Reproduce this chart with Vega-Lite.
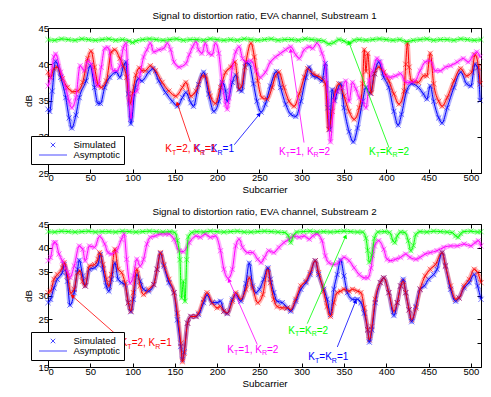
{
"$schema":"https://vega.github.io/schema/vega-lite/v6.json",
"padding":{"left":23,"top":10,"right":5,"bottom":5},
"config":{"font":"Liberation Sans","view":{"stroke":"#000","strokeWidth":1},
"axis":{"grid":false,"domain":false,"tickColor":"#000","tickSize":-4,"labelColor":"#000","labelFontSize":9.5,"labelFont":"Liberation Sans","titleFont":"Liberation Sans","titleFontSize":9.8,"titleFontWeight":"normal","titleColor":"#000","labelPadding":3.5},
"axisX":{"titlePadding":2.5},"axisY":{"titlePadding":4},
"title":{"fontSize":9.8,"fontWeight":"normal","font":"Liberation Sans","color":"#000","offset":2},
"concat":{"spacing":11}},
"datasets":{
"lg":[{"k":"Simulated","x":256,"y":-100},{"k":"Asymptotic","x":256,"y":-100}],
"a1":[
{"c":"r","g":"A","m":"=2, K","e":"=1","x":138.7,"y":28.3,"ax":168.3,"ay":29.3,"hx":152.9,"hy":34.6},
{"c":"b","g":"B","m":"=K","e":"=1","x":172.6,"y":28.3,"ax":220.3,"ay":28.9,"hx":249.9,"hy":33.1},
{"c":"m","g":"A","m":"=1, K","e":"=2","x":273.1,"y":27.9,"ax":302.7,"ay":29.2,"hx":286.9,"hy":41.9},
{"c":"g","g":"B","m":"=K","e":"=2","x":379.6,"y":27.9,"ax":403.2,"ay":28.5,"hx":355.9,"hy":43.0}],
"a2":[
{"c":"r","g":"A","m":"=2, K","e":"=1","x":85.9,"y":20.0,"ax":85.1,"ay":21.1,"hx":28.7,"hy":29.9},
{"c":"m","g":"A","m":"=1, K","e":"=2","x":212,"y":18.6,"ax":247.5,"ay":19.7,"hx":214,"hy":33.2},
{"c":"g","g":"B","m":"=K","e":"=2","x":284,"y":22.6,"ax":306.6,"ay":24.1,"hx":351.9,"hy":42.4},
{"c":"b","g":"B","m":"=K","e":"=1","x":307.8,"y":17.0,"ax":342.1,"ay":19.2,"hx":363.7,"hy":28.8}],
"s1":[
{"s":"b","x":0,"y":33.8},{"s":"b","x":2,"y":33.5},{"s":"b","x":5,"y":36.3},{"s":"b","x":9,"y":40.4},{"s":"b","x":15,"y":38.2},{"s":"b","x":21,"y":35.4},{"s":"b","x":25,"y":32.6},{"s":"b","x":28,"y":31.2},{"s":"b","x":33,"y":33.0},{"s":"b","x":37,"y":35.4},{"s":"b","x":45,"y":37.7},{"s":"b","x":50,"y":39.8},{"s":"b","x":55,"y":36.8},{"s":"b","x":59,"y":34.6},{"s":"b","x":62,"y":34.6},{"s":"b","x":67,"y":36.8},{"s":"b","x":73,"y":38.2},{"s":"b","x":81,"y":38.9},{"s":"b","x":85,"y":38.2},{"s":"b","x":89,"y":39.6},{"s":"b","x":92,"y":40.3},{"s":"b","x":95,"y":35.9},{"s":"b","x":98,"y":31.8},{"s":"b","x":103,"y":36.8},{"s":"b","x":107,"y":38.0},{"s":"b","x":111,"y":37.7},{"s":"b","x":119,"y":38.9},{"s":"b","x":124,"y":39.4},{"s":"b","x":131,"y":37.7},{"s":"b","x":139,"y":36.1},{"s":"b","x":147,"y":34.9},{"s":"b","x":153,"y":34.2},{"s":"b","x":159,"y":35.4},{"s":"b","x":163,"y":36.1},{"s":"b","x":169,"y":34.7},{"s":"b","x":172,"y":34.2},{"s":"b","x":178,"y":37.2},{"s":"b","x":184,"y":38.9},{"s":"b","x":190,"y":35.9},{"s":"b","x":196,"y":33.5},{"s":"b","x":202,"y":34.9},{"s":"b","x":206,"y":37.5},{"s":"b","x":210,"y":36.3},{"s":"b","x":212,"y":34.9},{"s":"b","x":218,"y":37.5},{"s":"b","x":222,"y":38.5},{"s":"b","x":226,"y":36.5},{"s":"b","x":229,"y":36.3},{"s":"b","x":234,"y":40.2},{"s":"b","x":238,"y":40.0},{"s":"b","x":243,"y":37.3},{"s":"b","x":247,"y":34.9},{"s":"b","x":252,"y":33.4},{"s":"b","x":257,"y":34.5},{"s":"b","x":263,"y":37.0},{"s":"b","x":270,"y":39.0},{"s":"b","x":275,"y":36.8},{"s":"b","x":281,"y":34.5},{"s":"b","x":287,"y":33.1},{"s":"b","x":293,"y":32.8},{"s":"b","x":299,"y":34.9},{"s":"b","x":305,"y":38.2},{"s":"b","x":309,"y":39.6},{"s":"b","x":313,"y":38.4},{"s":"b","x":318,"y":38.2},{"s":"b","x":324,"y":37.7},{"s":"b","x":328,"y":40.1},{"s":"b","x":331,"y":34.0},{"s":"b","x":333,"y":31.0},{"s":"b","x":336,"y":36.5},{"s":"b","x":339,"y":35.0},{"s":"b","x":342,"y":36.3},{"s":"b","x":346,"y":37.3},{"s":"b","x":350,"y":34.0},{"s":"b","x":356,"y":30.7},{"s":"b","x":361,"y":29.3},{"s":"b","x":366,"y":31.2},{"s":"b","x":372,"y":34.9},{"s":"b","x":376,"y":36.8},{"s":"b","x":381,"y":36.0},{"s":"b","x":386,"y":38.7},{"s":"b","x":391,"y":40.3},{"s":"b","x":397,"y":38.2},{"s":"b","x":403,"y":36.8},{"s":"b","x":409,"y":33.5},{"s":"b","x":414,"y":31.6},{"s":"b","x":418,"y":33.1},{"s":"b","x":424,"y":36.3},{"s":"b","x":430,"y":37.3},{"s":"b","x":438,"y":36.8},{"s":"b","x":444,"y":35.9},{"s":"b","x":448,"y":35.2},{"s":"b","x":452,"y":37.0},{"s":"b","x":456,"y":34.9},{"s":"b","x":462,"y":32.6},{"s":"b","x":466,"y":31.9},{"s":"b","x":472,"y":34.0},{"s":"b","x":480,"y":36.8},{"s":"b","x":488,"y":38.9},{"s":"b","x":495,"y":37.3},{"s":"b","x":500,"y":37.0},{"s":"b","x":505,"y":40.0},{"s":"b","x":508,"y":39.5},{"s":"b","x":511,"y":35.0},
{"s":"r","x":0,"y":38.9},{"s":"r","x":3,"y":38.2},{"s":"r","x":7,"y":39.4},{"s":"r","x":11,"y":39.6},{"s":"r","x":17,"y":38.0},{"s":"r","x":23,"y":36.8},{"s":"r","x":29,"y":36.2},{"s":"r","x":35,"y":36.3},{"s":"r","x":41,"y":37.5},{"s":"r","x":47,"y":40.8},{"s":"r","x":51,"y":41.8},{"s":"r","x":55,"y":39.6},{"s":"r","x":59,"y":37.3},{"s":"r","x":63,"y":36.8},{"s":"r","x":69,"y":37.7},{"s":"r","x":75,"y":41.7},{"s":"r","x":79,"y":42.0},{"s":"r","x":85,"y":40.8},{"s":"r","x":89,"y":39.8},{"s":"r","x":93,"y":38.2},{"s":"r","x":97,"y":34.6},{"s":"r","x":100,"y":36.0},{"s":"r","x":104,"y":38.5},{"s":"r","x":108,"y":39.5},{"s":"r","x":111,"y":39.1},{"s":"r","x":115,"y":39.1},{"s":"r","x":121,"y":39.8},{"s":"r","x":127,"y":39.1},{"s":"r","x":135,"y":37.5},{"s":"r","x":143,"y":36.3},{"s":"r","x":151,"y":35.6},{"s":"r","x":159,"y":36.8},{"s":"r","x":163,"y":37.5},{"s":"r","x":169,"y":35.6},{"s":"r","x":175,"y":36.3},{"s":"r","x":183,"y":38.4},{"s":"r","x":186,"y":38.4},{"s":"r","x":192,"y":35.6},{"s":"r","x":198,"y":34.6},{"s":"r","x":204,"y":36.8},{"s":"r","x":210,"y":38.9},{"s":"r","x":216,"y":39.6},{"s":"r","x":221,"y":40.3},{"s":"r","x":226,"y":36.6},{"s":"r","x":229,"y":37.0},{"s":"r","x":233,"y":39.6},{"s":"r","x":240,"y":42.9},{"s":"r","x":244,"y":41.0},{"s":"r","x":248,"y":37.7},{"s":"r","x":253,"y":35.4},{"s":"r","x":259,"y":35.2},{"s":"r","x":265,"y":36.8},{"s":"r","x":269,"y":38.4},{"s":"r","x":273,"y":38.9},{"s":"r","x":279,"y":36.8},{"s":"r","x":285,"y":34.9},{"s":"r","x":291,"y":34.2},{"s":"r","x":297,"y":35.9},{"s":"r","x":303,"y":38.2},{"s":"r","x":307,"y":39.4},{"s":"r","x":313,"y":38.7},{"s":"r","x":318,"y":38.4},{"s":"r","x":324,"y":38.0},{"s":"r","x":328,"y":37.3},{"s":"r","x":332,"y":31.0},{"s":"r","x":336,"y":33.5},{"s":"r","x":340,"y":36.3},{"s":"r","x":344,"y":37.3},{"s":"r","x":350,"y":35.6},{"s":"r","x":356,"y":33.5},{"s":"r","x":362,"y":32.4},{"s":"r","x":368,"y":34.0},{"s":"r","x":372,"y":37.3},{"s":"r","x":374,"y":42.0},{"s":"r","x":376,"y":39.0},{"s":"r","x":378,"y":41.5},{"s":"r","x":382,"y":36.0},{"s":"r","x":386,"y":38.7},{"s":"r","x":391,"y":39.6},{"s":"r","x":397,"y":38.9},{"s":"r","x":403,"y":37.7},{"s":"r","x":409,"y":35.9},{"s":"r","x":415,"y":34.5},{"s":"r","x":421,"y":36.3},{"s":"r","x":423,"y":40.0},{"s":"r","x":425,"y":42.9},{"s":"r","x":427,"y":39.6},{"s":"r","x":430,"y":37.7},{"s":"r","x":438,"y":37.5},{"s":"r","x":444,"y":38.4},{"s":"r","x":448,"y":38.4},{"s":"r","x":452,"y":41.5},{"s":"r","x":456,"y":37.3},{"s":"r","x":462,"y":34.9},{"s":"r","x":466,"y":34.2},{"s":"r","x":472,"y":35.4},{"s":"r","x":480,"y":37.7},{"s":"r","x":488,"y":39.4},{"s":"r","x":495,"y":38.4},{"s":"r","x":501,"y":38.9},{"s":"r","x":505,"y":41.3},{"s":"r","x":509,"y":39.6},{"s":"r","x":511,"y":37.3},
{"s":"m","x":0,"y":37.0},{"s":"m","x":3,"y":38.2},{"s":"m","x":7,"y":41.0},{"s":"m","x":9,"y":41.4},{"s":"m","x":15,"y":38.9},{"s":"m","x":21,"y":36.8},{"s":"m","x":25,"y":34.9},{"s":"m","x":28,"y":34.0},{"s":"m","x":33,"y":35.4},{"s":"m","x":38,"y":39.8},{"s":"m","x":43,"y":39.1},{"s":"m","x":47,"y":40.5},{"s":"m","x":51,"y":40.0},{"s":"m","x":55,"y":38.0},{"s":"m","x":59,"y":37.0},{"s":"m","x":63,"y":39.6},{"s":"m","x":67,"y":42.2},{"s":"m","x":71,"y":42.3},{"s":"m","x":77,"y":39.1},{"s":"m","x":81,"y":39.1},{"s":"m","x":85,"y":39.8},{"s":"m","x":89,"y":42.2},{"s":"m","x":92,"y":42.9},{"s":"m","x":96,"y":34.9},{"s":"m","x":98,"y":32.5},{"s":"m","x":101,"y":35.9},{"s":"m","x":105,"y":36.3},{"s":"m","x":109,"y":38.7},{"s":"m","x":113,"y":41.0},{"s":"m","x":117,"y":42.0},{"s":"m","x":121,"y":42.9},{"s":"m","x":125,"y":41.7},{"s":"m","x":131,"y":42.0},{"s":"m","x":137,"y":42.2},{"s":"m","x":141,"y":42.9},{"s":"m","x":145,"y":42.0},{"s":"m","x":149,"y":40.3},{"s":"m","x":155,"y":39.6},{"s":"m","x":163,"y":40.1},{"s":"m","x":167,"y":41.3},{"s":"m","x":171,"y":42.4},{"s":"m","x":175,"y":43.1},{"s":"m","x":178,"y":42.0},{"s":"m","x":182,"y":41.5},{"s":"m","x":186,"y":42.9},{"s":"m","x":190,"y":41.5},{"s":"m","x":194,"y":41.3},{"s":"m","x":198,"y":42.9},{"s":"m","x":202,"y":41.5},{"s":"m","x":206,"y":37.3},{"s":"m","x":210,"y":34.5},{"s":"m","x":212,"y":33.8},{"s":"m","x":214,"y":35.4},{"s":"m","x":218,"y":39.6},{"s":"m","x":222,"y":41.7},{"s":"m","x":226,"y":42.4},{"s":"m","x":230,"y":40.8},{"s":"m","x":234,"y":40.3},{"s":"m","x":240,"y":40.5},{"s":"m","x":246,"y":39.1},{"s":"m","x":251,"y":38.2},{"s":"m","x":257,"y":38.9},{"s":"m","x":263,"y":40.3},{"s":"m","x":269,"y":41.0},{"s":"m","x":275,"y":41.5},{"s":"m","x":281,"y":42.0},{"s":"m","x":287,"y":42.4},{"s":"m","x":293,"y":41.3},{"s":"m","x":297,"y":40.8},{"s":"m","x":303,"y":42.0},{"s":"m","x":309,"y":42.4},{"s":"m","x":313,"y":42.2},{"s":"m","x":318,"y":42.9},{"s":"m","x":324,"y":41.5},{"s":"m","x":328,"y":39.6},{"s":"m","x":331,"y":34.9},{"s":"m","x":334,"y":29.3},{"s":"m","x":338,"y":34.9},{"s":"m","x":342,"y":36.3},{"s":"m","x":348,"y":36.8},{"s":"m","x":352,"y":37.7},{"s":"m","x":356,"y":34.9},{"s":"m","x":360,"y":37.5},{"s":"m","x":364,"y":36.6},{"s":"m","x":368,"y":35.4},{"s":"m","x":372,"y":34.9},{"s":"m","x":376,"y":34.0},{"s":"m","x":380,"y":37.7},{"s":"m","x":384,"y":39.1},{"s":"m","x":389,"y":40.8},{"s":"m","x":393,"y":40.3},{"s":"m","x":399,"y":38.4},{"s":"m","x":405,"y":38.2},{"s":"m","x":411,"y":38.4},{"s":"m","x":417,"y":38.7},{"s":"m","x":423,"y":37.5},{"s":"m","x":428,"y":37.5},{"s":"m","x":434,"y":37.7},{"s":"m","x":440,"y":39.1},{"s":"m","x":446,"y":40.3},{"s":"m","x":452,"y":40.5},{"s":"m","x":458,"y":39.1},{"s":"m","x":464,"y":39.1},{"s":"m","x":470,"y":39.6},{"s":"m","x":476,"y":39.8},{"s":"m","x":484,"y":40.3},{"s":"m","x":491,"y":40.8},{"s":"m","x":497,"y":40.3},{"s":"m","x":503,"y":41.3},{"s":"m","x":507,"y":41.7},{"s":"m","x":511,"y":41.0},
{"s":"g","x":0,"y":43.4},{"s":"g","x":8,"y":43.3},{"s":"g","x":16,"y":43.5},{"s":"g","x":24,"y":43.4},{"s":"g","x":32,"y":43.3},{"s":"g","x":40,"y":43.5},{"s":"g","x":48,"y":43.4},{"s":"g","x":56,"y":43.3},{"s":"g","x":64,"y":43.4},{"s":"g","x":72,"y":43.5},{"s":"g","x":80,"y":43.3},{"s":"g","x":88,"y":43.4},{"s":"g","x":96,"y":43.2},{"s":"g","x":100,"y":43.0},{"s":"g","x":104,"y":43.2},{"s":"g","x":112,"y":43.4},{"s":"g","x":120,"y":43.5},{"s":"g","x":128,"y":43.4},{"s":"g","x":136,"y":43.3},{"s":"g","x":144,"y":43.4},{"s":"g","x":152,"y":43.5},{"s":"g","x":160,"y":43.3},{"s":"g","x":168,"y":43.4},{"s":"g","x":176,"y":43.4},{"s":"g","x":184,"y":43.3},{"s":"g","x":192,"y":43.5},{"s":"g","x":200,"y":43.4},{"s":"g","x":208,"y":43.3},{"s":"g","x":216,"y":43.4},{"s":"g","x":224,"y":43.3},{"s":"g","x":232,"y":43.5},{"s":"g","x":240,"y":43.4},{"s":"g","x":248,"y":43.3},{"s":"g","x":256,"y":43.4},{"s":"g","x":264,"y":43.5},{"s":"g","x":272,"y":43.3},{"s":"g","x":280,"y":43.4},{"s":"g","x":288,"y":43.4},{"s":"g","x":296,"y":43.3},{"s":"g","x":304,"y":43.5},{"s":"g","x":312,"y":43.4},{"s":"g","x":320,"y":43.3},{"s":"g","x":326,"y":43.2},{"s":"g","x":332,"y":42.8},{"s":"g","x":338,"y":43.0},{"s":"g","x":344,"y":43.4},{"s":"g","x":350,"y":43.2},{"s":"g","x":356,"y":42.9},{"s":"g","x":362,"y":43.3},{"s":"g","x":368,"y":43.4},{"s":"g","x":376,"y":43.3},{"s":"g","x":384,"y":43.4},{"s":"g","x":392,"y":43.5},{"s":"g","x":400,"y":43.4},{"s":"g","x":408,"y":43.3},{"s":"g","x":416,"y":43.4},{"s":"g","x":424,"y":43.1},{"s":"g","x":432,"y":43.3},{"s":"g","x":440,"y":43.4},{"s":"g","x":448,"y":43.5},{"s":"g","x":456,"y":43.3},{"s":"g","x":464,"y":43.4},{"s":"g","x":472,"y":43.4},{"s":"g","x":480,"y":43.3},{"s":"g","x":488,"y":43.5},{"s":"g","x":496,"y":43.4},{"s":"g","x":504,"y":43.3},{"s":"g","x":512,"y":43.4}],
"s2":[
{"s":"b","x":0,"y":28.5},{"s":"b","x":3,"y":29.2},{"s":"b","x":7,"y":31.6},{"s":"b","x":11,"y":33.4},{"s":"b","x":17,"y":34.8},{"s":"b","x":19,"y":36.5},{"s":"b","x":23,"y":33.0},{"s":"b","x":26,"y":28.0},{"s":"b","x":31,"y":30.6},{"s":"b","x":35,"y":35.5},{"s":"b","x":37,"y":37.4},{"s":"b","x":41,"y":34.1},{"s":"b","x":44,"y":32.0},{"s":"b","x":49,"y":35.5},{"s":"b","x":55,"y":35.8},{"s":"b","x":59,"y":36.5},{"s":"b","x":62,"y":38.6},{"s":"b","x":65,"y":35.5},{"s":"b","x":69,"y":32.0},{"s":"b","x":72,"y":30.9},{"s":"b","x":75,"y":33.4},{"s":"b","x":79,"y":36.8},{"s":"b","x":83,"y":33.4},{"s":"b","x":87,"y":32.7},{"s":"b","x":91,"y":32.3},{"s":"b","x":95,"y":28.5},{"s":"b","x":98,"y":26.6},{"s":"b","x":101,"y":29.2},{"s":"b","x":105,"y":34.4},{"s":"b","x":109,"y":33.0},{"s":"b","x":113,"y":31.3},{"s":"b","x":119,"y":30.9},{"s":"b","x":125,"y":32.3},{"s":"b","x":129,"y":35.5},{"s":"b","x":133,"y":38.8},{"s":"b","x":137,"y":36.2},{"s":"b","x":143,"y":32.7},{"s":"b","x":149,"y":30.6},{"s":"b","x":153,"y":24.9},{"s":"b","x":157,"y":19.3},{"s":"b","x":159,"y":16.5},{"s":"b","x":161,"y":18.2},{"s":"b","x":165,"y":24.2},{"s":"b","x":169,"y":25.6},{"s":"b","x":175,"y":25.6},{"s":"b","x":178,"y":26.0},{"s":"b","x":184,"y":28.5},{"s":"b","x":188,"y":30.1},{"s":"b","x":194,"y":28.5},{"s":"b","x":200,"y":28.5},{"s":"b","x":204,"y":28.8},{"s":"b","x":208,"y":26.7},{"s":"b","x":212,"y":26.2},{"s":"b","x":218,"y":29.2},{"s":"b","x":222,"y":30.2},{"s":"b","x":228,"y":28.8},{"s":"b","x":234,"y":32.5},{"s":"b","x":238,"y":36.8},{"s":"b","x":242,"y":32.0},{"s":"b","x":246,"y":30.6},{"s":"b","x":250,"y":31.3},{"s":"b","x":255,"y":33.4},{"s":"b","x":260,"y":35.8},{"s":"b","x":263,"y":33.4},{"s":"b","x":267,"y":30.6},{"s":"b","x":271,"y":28.8},{"s":"b","x":277,"y":28.5},{"s":"b","x":283,"y":27.4},{"s":"b","x":287,"y":26.7},{"s":"b","x":293,"y":28.8},{"s":"b","x":299,"y":31.3},{"s":"b","x":305,"y":32.7},{"s":"b","x":310,"y":34.4},{"s":"b","x":316,"y":37.3},{"s":"b","x":320,"y":34.4},{"s":"b","x":326,"y":31.3},{"s":"b","x":330,"y":29.2},{"s":"b","x":334,"y":26.0},{"s":"b","x":338,"y":31.3},{"s":"b","x":342,"y":34.4},{"s":"b","x":346,"y":37.4},{"s":"b","x":350,"y":34.1},{"s":"b","x":354,"y":30.6},{"s":"b","x":360,"y":29.2},{"s":"b","x":366,"y":29.2},{"s":"b","x":370,"y":28.5},{"s":"b","x":374,"y":26.3},{"s":"b","x":378,"y":22.8},{"s":"b","x":380,"y":20.2},{"s":"b","x":383,"y":22.8},{"s":"b","x":387,"y":28.5},{"s":"b","x":393,"y":32.7},{"s":"b","x":397,"y":33.7},{"s":"b","x":403,"y":30.6},{"s":"b","x":409,"y":25.8},{"s":"b","x":413,"y":28.5},{"s":"b","x":417,"y":32.0},{"s":"b","x":420,"y":33.4},{"s":"b","x":423,"y":30.6},{"s":"b","x":427,"y":27.0},{"s":"b","x":430,"y":24.5},{"s":"b","x":435,"y":27.7},{"s":"b","x":440,"y":31.3},{"s":"b","x":445,"y":32.0},{"s":"b","x":450,"y":33.4},{"s":"b","x":456,"y":34.4},{"s":"b","x":460,"y":35.5},{"s":"b","x":466,"y":39.0},{"s":"b","x":470,"y":36.2},{"s":"b","x":476,"y":31.3},{"s":"b","x":482,"y":28.8},{"s":"b","x":486,"y":29.5},{"s":"b","x":492,"y":31.6},{"s":"b","x":498,"y":32.7},{"s":"b","x":504,"y":34.4},{"s":"b","x":508,"y":32.0},{"s":"b","x":512,"y":29.2},
{"s":"r","x":0,"y":30.6},{"s":"r","x":3,"y":30.9},{"s":"r","x":7,"y":33.4},{"s":"r","x":11,"y":34.4},{"s":"r","x":17,"y":35.8},{"s":"r","x":19,"y":36.9},{"s":"r","x":23,"y":34.1},{"s":"r","x":27,"y":30.5},{"s":"r","x":31,"y":31.3},{"s":"r","x":35,"y":34.8},{"s":"r","x":38,"y":35.1},{"s":"r","x":41,"y":33.0},{"s":"r","x":44,"y":32.0},{"s":"r","x":49,"y":36.2},{"s":"r","x":55,"y":36.5},{"s":"r","x":59,"y":37.6},{"s":"r","x":61,"y":39.0},{"s":"r","x":65,"y":36.5},{"s":"r","x":69,"y":33.4},{"s":"r","x":72,"y":32.0},{"s":"r","x":75,"y":34.4},{"s":"r","x":79,"y":39.7},{"s":"r","x":83,"y":35.5},{"s":"r","x":87,"y":34.8},{"s":"r","x":91,"y":32.7},{"s":"r","x":95,"y":28.5},{"s":"r","x":98,"y":26.7},{"s":"r","x":101,"y":30.6},{"s":"r","x":105,"y":35.5},{"s":"r","x":109,"y":32.0},{"s":"r","x":113,"y":30.2},{"s":"r","x":119,"y":31.3},{"s":"r","x":125,"y":32.3},{"s":"r","x":129,"y":35.5},{"s":"r","x":133,"y":39.0},{"s":"r","x":137,"y":36.5},{"s":"r","x":143,"y":33.4},{"s":"r","x":149,"y":30.6},{"s":"r","x":153,"y":26.3},{"s":"r","x":157,"y":20.0},{"s":"r","x":159,"y":16.1},{"s":"r","x":161,"y":17.9},{"s":"r","x":165,"y":24.2},{"s":"r","x":169,"y":25.6},{"s":"r","x":175,"y":25.6},{"s":"r","x":178,"y":26.3},{"s":"r","x":184,"y":29.2},{"s":"r","x":188,"y":30.6},{"s":"r","x":194,"y":28.5},{"s":"r","x":200,"y":27.4},{"s":"r","x":204,"y":27.7},{"s":"r","x":208,"y":26.7},{"s":"r","x":212,"y":26.3},{"s":"r","x":218,"y":28.8},{"s":"r","x":222,"y":30.6},{"s":"r","x":228,"y":29.2},{"s":"r","x":234,"y":31.3},{"s":"r","x":238,"y":33.7},{"s":"r","x":242,"y":31.6},{"s":"r","x":248,"y":28.5},{"s":"r","x":254,"y":30.2},{"s":"r","x":260,"y":35.5},{"s":"r","x":263,"y":32.7},{"s":"r","x":267,"y":29.2},{"s":"r","x":271,"y":27.7},{"s":"r","x":277,"y":27.4},{"s":"r","x":283,"y":27.4},{"s":"r","x":287,"y":27.0},{"s":"r","x":293,"y":29.2},{"s":"r","x":299,"y":32.0},{"s":"r","x":305,"y":33.0},{"s":"r","x":310,"y":34.8},{"s":"r","x":316,"y":37.3},{"s":"r","x":320,"y":34.8},{"s":"r","x":326,"y":30.9},{"s":"r","x":330,"y":27.7},{"s":"r","x":334,"y":25.6},{"s":"r","x":338,"y":28.5},{"s":"r","x":342,"y":30.6},{"s":"r","x":346,"y":30.9},{"s":"r","x":350,"y":31.3},{"s":"r","x":356,"y":30.9},{"s":"r","x":360,"y":31.3},{"s":"r","x":366,"y":30.9},{"s":"r","x":370,"y":30.6},{"s":"r","x":374,"y":27.4},{"s":"r","x":378,"y":22.8},{"s":"r","x":380,"y":20.7},{"s":"r","x":383,"y":23.5},{"s":"r","x":387,"y":29.2},{"s":"r","x":393,"y":32.7},{"s":"r","x":397,"y":33.7},{"s":"r","x":403,"y":30.6},{"s":"r","x":409,"y":26.7},{"s":"r","x":413,"y":28.5},{"s":"r","x":417,"y":32.0},{"s":"r","x":420,"y":33.0},{"s":"r","x":423,"y":30.6},{"s":"r","x":427,"y":27.0},{"s":"r","x":430,"y":24.9},{"s":"r","x":435,"y":27.4},{"s":"r","x":440,"y":31.3},{"s":"r","x":446,"y":34.1},{"s":"r","x":452,"y":35.5},{"s":"r","x":458,"y":36.5},{"s":"r","x":466,"y":39.0},{"s":"r","x":470,"y":36.2},{"s":"r","x":476,"y":32.0},{"s":"r","x":482,"y":29.2},{"s":"r","x":486,"y":29.5},{"s":"r","x":492,"y":32.0},{"s":"r","x":498,"y":33.4},{"s":"r","x":504,"y":35.5},{"s":"r","x":508,"y":34.8},{"s":"r","x":512,"y":32.7},
{"s":"m","x":0,"y":37.3},{"s":"m","x":3,"y":38.0},{"s":"m","x":7,"y":41.1},{"s":"m","x":9,"y":41.1},{"s":"m","x":13,"y":38.7},{"s":"m","x":17,"y":37.3},{"s":"m","x":23,"y":34.8},{"s":"m","x":26,"y":33.8},{"s":"m","x":31,"y":36.2},{"s":"m","x":37,"y":40.4},{"s":"m","x":41,"y":39.7},{"s":"m","x":44,"y":37.3},{"s":"m","x":49,"y":40.4},{"s":"m","x":55,"y":40.1},{"s":"m","x":61,"y":42.4},{"s":"m","x":67,"y":40.8},{"s":"m","x":71,"y":39.0},{"s":"m","x":75,"y":38.7},{"s":"m","x":81,"y":39.4},{"s":"m","x":87,"y":41.8},{"s":"m","x":90,"y":42.9},{"s":"m","x":93,"y":37.6},{"s":"m","x":97,"y":32.6},{"s":"m","x":101,"y":34.1},{"s":"m","x":105,"y":37.6},{"s":"m","x":109,"y":36.2},{"s":"m","x":113,"y":37.6},{"s":"m","x":117,"y":40.8},{"s":"m","x":121,"y":42.2},{"s":"m","x":127,"y":42.5},{"s":"m","x":133,"y":42.9},{"s":"m","x":139,"y":42.9},{"s":"m","x":143,"y":42.9},{"s":"m","x":149,"y":41.8},{"s":"m","x":155,"y":39.4},{"s":"m","x":160,"y":39.2},{"s":"m","x":167,"y":41.1},{"s":"m","x":175,"y":42.5},{"s":"m","x":180,"y":42.2},{"s":"m","x":186,"y":42.9},{"s":"m","x":192,"y":42.2},{"s":"m","x":198,"y":42.5},{"s":"m","x":204,"y":39.4},{"s":"m","x":208,"y":35.5},{"s":"m","x":213,"y":33.6},{"s":"m","x":218,"y":35.5},{"s":"m","x":222,"y":40.4},{"s":"m","x":226,"y":41.8},{"s":"m","x":230,"y":40.1},{"s":"m","x":236,"y":39.0},{"s":"m","x":242,"y":39.0},{"s":"m","x":248,"y":37.6},{"s":"m","x":252,"y":36.9},{"s":"m","x":256,"y":38.0},{"s":"m","x":261,"y":39.4},{"s":"m","x":267,"y":39.0},{"s":"m","x":273,"y":40.1},{"s":"m","x":279,"y":41.1},{"s":"m","x":285,"y":41.8},{"s":"m","x":291,"y":42.5},{"s":"m","x":297,"y":42.2},{"s":"m","x":303,"y":42.5},{"s":"m","x":309,"y":41.8},{"s":"m","x":313,"y":42.5},{"s":"m","x":318,"y":42.9},{"s":"m","x":324,"y":41.5},{"s":"m","x":328,"y":38.3},{"s":"m","x":332,"y":36.9},{"s":"m","x":338,"y":36.5},{"s":"m","x":344,"y":36.9},{"s":"m","x":350,"y":38.0},{"s":"m","x":356,"y":37.3},{"s":"m","x":362,"y":35.8},{"s":"m","x":368,"y":34.4},{"s":"m","x":374,"y":33.7},{"s":"m","x":378,"y":33.7},{"s":"m","x":382,"y":35.8},{"s":"m","x":386,"y":40.4},{"s":"m","x":391,"y":41.5},{"s":"m","x":397,"y":39.7},{"s":"m","x":401,"y":37.6},{"s":"m","x":405,"y":37.3},{"s":"m","x":411,"y":37.6},{"s":"m","x":417,"y":38.0},{"s":"m","x":423,"y":38.7},{"s":"m","x":428,"y":38.0},{"s":"m","x":435,"y":37.6},{"s":"m","x":440,"y":38.0},{"s":"m","x":446,"y":38.7},{"s":"m","x":452,"y":39.0},{"s":"m","x":460,"y":39.4},{"s":"m","x":468,"y":40.1},{"s":"m","x":476,"y":40.4},{"s":"m","x":484,"y":40.4},{"s":"m","x":492,"y":40.8},{"s":"m","x":500,"y":40.4},{"s":"m","x":505,"y":41.1},{"s":"m","x":509,"y":41.5},{"s":"m","x":512,"y":40.4},
{"s":"g","x":0,"y":43.4},{"s":"g","x":8,"y":43.3},{"s":"g","x":16,"y":43.5},{"s":"g","x":24,"y":43.4},{"s":"g","x":32,"y":43.3},{"s":"g","x":40,"y":43.4},{"s":"g","x":48,"y":43.5},{"s":"g","x":56,"y":43.3},{"s":"g","x":64,"y":43.4},{"s":"g","x":72,"y":43.4},{"s":"g","x":80,"y":43.3},{"s":"g","x":88,"y":43.5},{"s":"g","x":96,"y":43.4},{"s":"g","x":104,"y":43.3},{"s":"g","x":112,"y":43.4},{"s":"g","x":120,"y":43.5},{"s":"g","x":128,"y":43.4},{"s":"g","x":136,"y":43.3},{"s":"g","x":144,"y":43.4},{"s":"g","x":150,"y":43.2},{"s":"g","x":153,"y":41.5},{"s":"g","x":156,"y":37.5},{"s":"g","x":158,"y":29.5},{"s":"g","x":160,"y":33.0},{"s":"g","x":162,"y":28.8},{"s":"g","x":164,"y":37.5},{"s":"g","x":166,"y":42.3},{"s":"g","x":170,"y":43.2},{"s":"g","x":176,"y":43.4},{"s":"g","x":184,"y":43.3},{"s":"g","x":192,"y":43.5},{"s":"g","x":200,"y":43.4},{"s":"g","x":208,"y":43.3},{"s":"g","x":216,"y":43.4},{"s":"g","x":224,"y":43.5},{"s":"g","x":232,"y":43.3},{"s":"g","x":240,"y":43.3},{"s":"g","x":248,"y":43.4},{"s":"g","x":256,"y":43.5},{"s":"g","x":264,"y":43.4},{"s":"g","x":272,"y":43.3},{"s":"g","x":280,"y":43.2},{"s":"g","x":284,"y":42.6},{"s":"g","x":287,"y":41.1},{"s":"g","x":290,"y":42.5},{"s":"g","x":294,"y":43.3},{"s":"g","x":302,"y":43.4},{"s":"g","x":310,"y":43.5},{"s":"g","x":318,"y":43.3},{"s":"g","x":326,"y":43.4},{"s":"g","x":334,"y":43.3},{"s":"g","x":342,"y":43.4},{"s":"g","x":350,"y":43.5},{"s":"g","x":358,"y":43.4},{"s":"g","x":366,"y":43.3},{"s":"g","x":372,"y":43.3},{"s":"g","x":376,"y":42.0},{"s":"g","x":378,"y":39.5},{"s":"g","x":380,"y":37.0},{"s":"g","x":383,"y":38.5},{"s":"g","x":386,"y":42.0},{"s":"g","x":390,"y":43.3},{"s":"g","x":398,"y":43.4},{"s":"g","x":404,"y":43.2},{"s":"g","x":408,"y":41.5},{"s":"g","x":410,"y":41.1},{"s":"g","x":413,"y":42.5},{"s":"g","x":417,"y":43.3},{"s":"g","x":422,"y":43.2},{"s":"g","x":426,"y":41.5},{"s":"g","x":429,"y":39.4},{"s":"g","x":432,"y":40.5},{"s":"g","x":435,"y":42.8},{"s":"g","x":440,"y":43.4},{"s":"g","x":448,"y":43.3},{"s":"g","x":456,"y":43.5},{"s":"g","x":464,"y":43.4},{"s":"g","x":472,"y":43.3},{"s":"g","x":478,"y":43.2},{"s":"g","x":482,"y":42.5},{"s":"g","x":485,"y":42.2},{"s":"g","x":488,"y":43.0},{"s":"g","x":492,"y":43.4},{"s":"g","x":500,"y":43.5},{"s":"g","x":508,"y":43.3},{"s":"g","x":512,"y":43.4}]
},
"resolve":{"scale":{"shape":"independent","color":"shared"},"legend":{"shape":"independent"}},
"vconcat":[
{"width":433,"height":145,
"title":{"text":"Signal to distortion ratio, EVA channel, Substream 1"},
"encoding":{"x":{"field":"x","type":"quantitative","scale":{"domain":[0,512],"nice":false},"axis":null},
"y":{"field":"y","type":"quantitative","scale":{"domain":[25,45],"nice":false},"axis":null},
"color":{"field":"c","type":"nominal","scale":{"domain":["b","r","m","g"],"range":["#0000ff","#ff0000","#ff00ff","#00ff00"]},"legend":null}},
"resolve":{"axis":{"x":"independent","y":"independent"}},
"layer":[
{"data":{"name":"s1"},"mark":{"type":"line","strokeWidth":4.5,"opacity":0.3,"interpolate":"monotone"},
"encoding":{"color":{"field":"s","type":"nominal","scale":{"domain":["b","r","m","g"],"range":["#0000ff","#ff0000","#ff00ff","#00ff00"]},"legend":null}}},
{"data":{"name":"s1"},"mark":{"type":"point","shape":"M-1,-1L1,1M-1,1L1,-1","filled":false,"size":28,"strokeWidth":0.9,"opacity":0.6},
"encoding":{"color":{"field":"s","type":"nominal","scale":{"domain":["b","r","m","g"],"range":["#0000ff","#ff0000","#ff00ff","#00ff00"]},"legend":null}}},
{"data":{"name":"s1"},"mark":{"type":"line","strokeWidth":1,"interpolate":"monotone"},
"encoding":{"color":{"field":"s","type":"nominal","scale":{"domain":["b","r","m","g"],"range":["#0000ff","#ff0000","#ff00ff","#00ff00"]},"legend":null},
"x":{"field":"x","type":"quantitative","scale":{"domain":[0,512],"nice":false},"axis":{"orient":"bottom","values":[0,50,100,150,200,250,300,350,400,450,500],"title":"Subcarrier"}},
"y":{"field":"y","type":"quantitative","scale":{"domain":[25,45],"nice":false},"axis":{"orient":"left","values":[25,30,35,40,45],"title":"dB"}}}},
{"data":{"name":"lg"},"mark":{"type":"point","filled":false,"clip":true,"color":"#0000ff","strokeWidth":1},
"encoding":{"x":{"field":"x","type":"quantitative","scale":{"domain":[0,512],"nice":false},"axis":{"orient":"top","values":[0,50,100,150,200,250,300,350,400,450,500],"labels":false,"title":null}},
"y":{"field":"y","type":"quantitative","scale":{"domain":[25,45],"nice":false},"axis":{"orient":"right","values":[25,30,35,40,45],"labels":false,"title":null}},
"color":{"value":"#0000ff"},
"shape":{"field":"k","type":"nominal","scale":{"domain":["Simulated","Asymptotic"],"range":["M-0.16,-0.16L0.16,0.16M-0.16,0.16L0.16,-0.16","M-1,0L1,0"]},
"legend":{"orient":"none","legendX":-17,"legendY":108,"title":null,"strokeColor":"#000","fillColor":"#fff","padding":4,"symbolSize":784,"symbolStrokeWidth":1,"symbolStrokeColor":"#0000ff","symbolFillColor":"transparent","clipHeight":10,"rowPadding":0,"symbolOffset":3.5,"labelOffset":6,"labelFontSize":9.5,"labelColor":"#000","labelFont":"Liberation Sans","cornerRadius":0}}}},
{"data":{"name":"a1"},"mark":{"type":"rule","strokeWidth":0.8},
"encoding":{"x":{"field":"ax","type":"quantitative","scale":{"domain":[0,512],"nice":false},"axis":null},"y":{"field":"ay","type":"quantitative","scale":{"domain":[25,45],"nice":false},"axis":null},"x2":{"field":"hx"},"y2":{"field":"hy"}}},
{"data":{"name":"a1"},"transform":[{"calculate":"atan2((datum.hx-datum.ax)*0.8457,(datum.hy-datum.ay)*7.225)*180/PI","as":"ang"}],
"mark":{"type":"point","shape":"triangle-up","filled":true,"size":22,"opacity":1},
"encoding":{"x":{"field":"hx","type":"quantitative","scale":{"domain":[0,512],"nice":false},"axis":null},"y":{"field":"hy","type":"quantitative","scale":{"domain":[25,45],"nice":false},"axis":null},"angle":{"field":"ang","type":"quantitative","scale":null}}},
{"data":{"name":"a1"},"mark":{"type":"text","text":"K","align":"left","baseline":"middle","fontSize":10,"dx":0}},
{"data":{"name":"a1"},"mark":{"type":"text","text":"T","align":"left","baseline":"middle","fontSize":7,"dx":6.7,"dy":3.5}},
{"data":{"name":"a1"},"mark":{"type":"text","align":"left","baseline":"middle","fontSize":10,"dx":11},"encoding":{"text":{"field":"m"}}},
{"data":{"name":"a1"},"transform":[{"filter":"datum.g==='A'"}],"mark":{"type":"text","text":"R","align":"left","baseline":"middle","fontSize":7,"dx":34.6,"dy":3.5}},
{"data":{"name":"a1"},"transform":[{"filter":"datum.g==='A'"}],"mark":{"type":"text","align":"left","baseline":"middle","fontSize":10,"dx":39.7},"encoding":{"text":{"field":"e"}}},
{"data":{"name":"a1"},"transform":[{"filter":"datum.g==='B'"}],"mark":{"type":"text","text":"R","align":"left","baseline":"middle","fontSize":7,"dx":23.5,"dy":3.5}},
{"data":{"name":"a1"},"transform":[{"filter":"datum.g==='B'"}],"mark":{"type":"text","align":"left","baseline":"middle","fontSize":10,"dx":28.6},"encoding":{"text":{"field":"e"}}}
]},
{"width":433,"height":143,
"title":{"text":"Signal to distortion ratio, EVA channel, Substream 2"},
"encoding":{"x":{"field":"x","type":"quantitative","scale":{"domain":[0,512],"nice":false},"axis":null},
"y":{"field":"y","type":"quantitative","scale":{"domain":[15,45],"nice":false},"axis":null},
"color":{"field":"c","type":"nominal","scale":{"domain":["b","r","m","g"],"range":["#0000ff","#ff0000","#ff00ff","#00ff00"]},"legend":null}},
"resolve":{"axis":{"x":"independent","y":"independent"}},
"layer":[
{"data":{"name":"s2"},"mark":{"type":"line","strokeWidth":4.5,"opacity":0.3,"interpolate":"monotone"},
"encoding":{"color":{"field":"s","type":"nominal","scale":{"domain":["b","r","m","g"],"range":["#0000ff","#ff0000","#ff00ff","#00ff00"]},"legend":null}}},
{"data":{"name":"s2"},"mark":{"type":"point","shape":"M-1,-1L1,1M-1,1L1,-1","filled":false,"size":28,"strokeWidth":0.9,"opacity":0.6},
"encoding":{"color":{"field":"s","type":"nominal","scale":{"domain":["b","r","m","g"],"range":["#0000ff","#ff0000","#ff00ff","#00ff00"]},"legend":null}}},
{"data":{"name":"s2"},"mark":{"type":"line","strokeWidth":1,"interpolate":"monotone"},
"encoding":{"color":{"field":"s","type":"nominal","scale":{"domain":["b","r","m","g"],"range":["#0000ff","#ff0000","#ff00ff","#00ff00"]},"legend":null},
"x":{"field":"x","type":"quantitative","scale":{"domain":[0,512],"nice":false},"axis":{"orient":"bottom","values":[0,50,100,150,200,250,300,350,400,450,500],"title":"Subcarrier"}},
"y":{"field":"y","type":"quantitative","scale":{"domain":[15,45],"nice":false},"axis":{"orient":"left","values":[15,20,25,30,35,40,45],"title":"dB"}}}},
{"data":{"name":"lg"},"mark":{"type":"point","filled":false,"clip":true,"color":"#0000ff","strokeWidth":1},
"encoding":{"x":{"field":"x","type":"quantitative","scale":{"domain":[0,512],"nice":false},"axis":{"orient":"top","values":[0,50,100,150,200,250,300,350,400,450,500],"labels":false,"title":null}},
"y":{"field":"y","type":"quantitative","scale":{"domain":[15,45],"nice":false},"axis":{"orient":"right","values":[15,20,25,30,35,40,45],"labels":false,"title":null}},
"color":{"value":"#0000ff"},
"shape":{"field":"k","type":"nominal","scale":{"domain":["Simulated","Asymptotic"],"range":["M-0.16,-0.16L0.16,0.16M-0.16,0.16L0.16,-0.16","M-1,0L1,0"]},
"legend":{"orient":"none","legendX":-17,"legendY":108,"title":null,"strokeColor":"#000","fillColor":"#fff","padding":4,"symbolSize":784,"symbolStrokeWidth":1,"symbolStrokeColor":"#0000ff","symbolFillColor":"transparent","clipHeight":10,"rowPadding":0,"symbolOffset":3.5,"labelOffset":6,"labelFontSize":9.5,"labelColor":"#000","labelFont":"Liberation Sans","cornerRadius":0}}}},
{"data":{"name":"a2"},"mark":{"type":"rule","strokeWidth":0.8},
"encoding":{"x":{"field":"ax","type":"quantitative","scale":{"domain":[0,512],"nice":false},"axis":null},"y":{"field":"ay","type":"quantitative","scale":{"domain":[15,45],"nice":false},"axis":null},"x2":{"field":"hx"},"y2":{"field":"hy"}}},
{"data":{"name":"a2"},"transform":[{"calculate":"atan2((datum.hx-datum.ax)*0.8457,(datum.hy-datum.ay)*4.777)*180/PI","as":"ang"}],
"mark":{"type":"point","shape":"triangle-up","filled":true,"size":22,"opacity":1},
"encoding":{"x":{"field":"hx","type":"quantitative","scale":{"domain":[0,512],"nice":false},"axis":null},"y":{"field":"hy","type":"quantitative","scale":{"domain":[15,45],"nice":false},"axis":null},"angle":{"field":"ang","type":"quantitative","scale":null}}},
{"data":{"name":"a2"},"mark":{"type":"text","text":"K","align":"left","baseline":"middle","fontSize":10,"dx":0}},
{"data":{"name":"a2"},"mark":{"type":"text","text":"T","align":"left","baseline":"middle","fontSize":7,"dx":6.7,"dy":3.5}},
{"data":{"name":"a2"},"mark":{"type":"text","align":"left","baseline":"middle","fontSize":10,"dx":11},"encoding":{"text":{"field":"m"}}},
{"data":{"name":"a2"},"transform":[{"filter":"datum.g==='A'"}],"mark":{"type":"text","text":"R","align":"left","baseline":"middle","fontSize":7,"dx":34.6,"dy":3.5}},
{"data":{"name":"a2"},"transform":[{"filter":"datum.g==='A'"}],"mark":{"type":"text","align":"left","baseline":"middle","fontSize":10,"dx":39.7},"encoding":{"text":{"field":"e"}}},
{"data":{"name":"a2"},"transform":[{"filter":"datum.g==='B'"}],"mark":{"type":"text","text":"R","align":"left","baseline":"middle","fontSize":7,"dx":23.5,"dy":3.5}},
{"data":{"name":"a2"},"transform":[{"filter":"datum.g==='B'"}],"mark":{"type":"text","align":"left","baseline":"middle","fontSize":10,"dx":28.6},"encoding":{"text":{"field":"e"}}}
]}
]}
